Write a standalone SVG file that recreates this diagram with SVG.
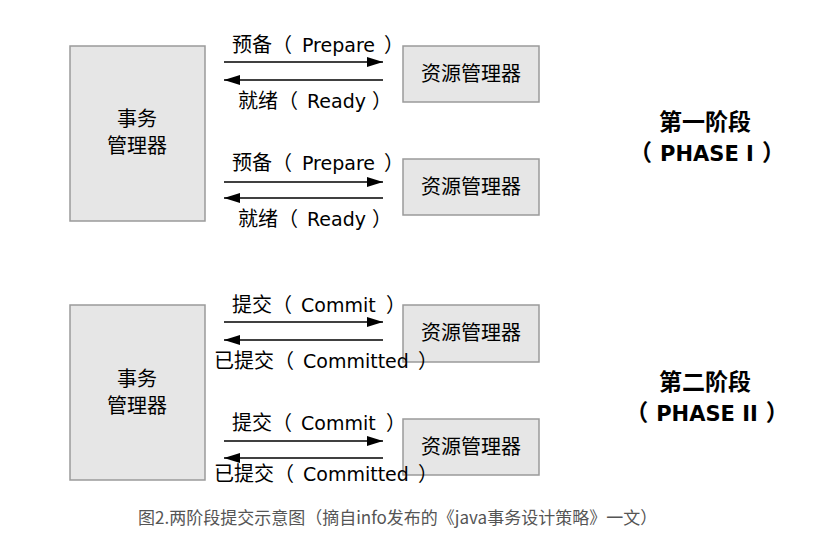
<svg xmlns="http://www.w3.org/2000/svg" width="834" height="556" viewBox="0 0 834 556">
<style>
.box{fill:#e6e6e6;stroke:#9a9a9a;stroke-width:1.5}
.t{font-family:"DejaVu Sans","Noto Sans CJK SC",sans-serif;font-size:20px;fill:#000}
.l{font-size:19px}
.c{text-anchor:middle}
.ph{font-family:"DejaVu Sans","Noto Sans CJK SC",sans-serif;font-size:23px;font-weight:bold;fill:#000;text-anchor:middle}
.pl{font-size:21px}
.ln{stroke:#000;stroke-width:1.5;fill:none}
.cap{font-family:"Noto Sans CJK SC",sans-serif;font-size:17px;fill:#555}
</style>
<defs>
<marker id="ah" viewBox="0 0 16 10" refX="16" refY="5" markerWidth="16" markerHeight="10" markerUnits="userSpaceOnUse" orient="auto">
<path d="M0,0 L16,5 L0,10 Z" fill="#000"/>
</marker>
</defs>
<rect width="834" height="556" fill="#fff"/>
<g id="tm1"><rect class="box" x="70" y="46" width="135" height="175"/><text class="t c" x="137" y="126">事务</text><text class="t c" x="137" y="153">管理器</text></g>
<g id="rm1"><rect class="box" x="403" y="46" width="136" height="56"/><text class="t c" x="471" y="81">资源管理器</text></g>
<g id="rm2"><rect class="box" x="403" y="159" width="136" height="56"/><text class="t c" x="471" y="194">资源管理器</text></g>
<g id="tm2"><rect class="box" x="70" y="305" width="135" height="175"/><text class="t c" x="137" y="386">事务</text><text class="t c" x="137" y="413">管理器</text></g>
<g id="rm3"><rect class="box" x="403" y="305" width="136" height="57"/><text class="t c" x="471" y="340">资源管理器</text></g>
<g id="rm4"><rect class="box" x="403" y="419" width="136" height="56"/><text class="t c" x="471" y="454">资源管理器</text></g>
<g id="connectors">
<line class="ln" x1="224" y1="62" x2="383" y2="62" marker-end="url(#ah)"/>
<line class="ln" x1="383" y1="80" x2="224" y2="80" marker-end="url(#ah)"/>
<line class="ln" x1="224" y1="182" x2="383" y2="182" marker-end="url(#ah)"/>
<line class="ln" x1="383" y1="198" x2="224" y2="198" marker-end="url(#ah)"/>
<line class="ln" x1="224" y1="322" x2="383" y2="322" marker-end="url(#ah)"/>
<line class="ln" x1="383" y1="340" x2="224" y2="340" marker-end="url(#ah)"/>
<line class="ln" x1="224" y1="441" x2="383" y2="441" marker-end="url(#ah)"/>
<line class="ln" x1="383" y1="458" x2="224" y2="458" marker-end="url(#ah)"/>
<text class="t" y="52"><tspan x="232">预备（</tspan><tspan class="l" x="302">Prepare</tspan><tspan x="384">）</tspan></text>
<text class="t" y="108"><tspan x="238">就绪（</tspan><tspan class="l" x="307">Ready</tspan><tspan x="372">）</tspan></text>
<text class="t" y="170"><tspan x="232">预备（</tspan><tspan class="l" x="302">Prepare</tspan><tspan x="384">）</tspan></text>
<text class="t" y="226"><tspan x="238">就绪（</tspan><tspan class="l" x="307">Ready</tspan><tspan x="372">）</tspan></text>
<text class="t" y="312"><tspan x="232">提交（</tspan><tspan class="l" x="301">Commit</tspan><tspan x="386">）</tspan></text>
<text class="t" y="368"><tspan x="214">已提交（</tspan><tspan class="l" x="303">Committed</tspan><tspan x="418">）</tspan></text>
<text class="t" y="430"><tspan x="232">提交（</tspan><tspan class="l" x="301">Commit</tspan><tspan x="386">）</tspan></text>
<text class="t" y="481"><tspan x="214">已提交（</tspan><tspan class="l" x="303">Committed</tspan><tspan x="418">）</tspan></text>
</g>
<text class="ph" x="705" y="130">第一阶段</text>
<text class="ph" x="707" y="161">（ <tspan class="pl">PHASE I</tspan> ）</text>
<text class="ph" x="705" y="390">第二阶段</text>
<text class="ph" x="707" y="421">（ <tspan class="pl">PHASE II</tspan> ）</text>
<text class="cap" x="138" y="524">图2.两阶段提交示意图（摘自info发布的《java事务设计策略》一文）</text>
</svg>
